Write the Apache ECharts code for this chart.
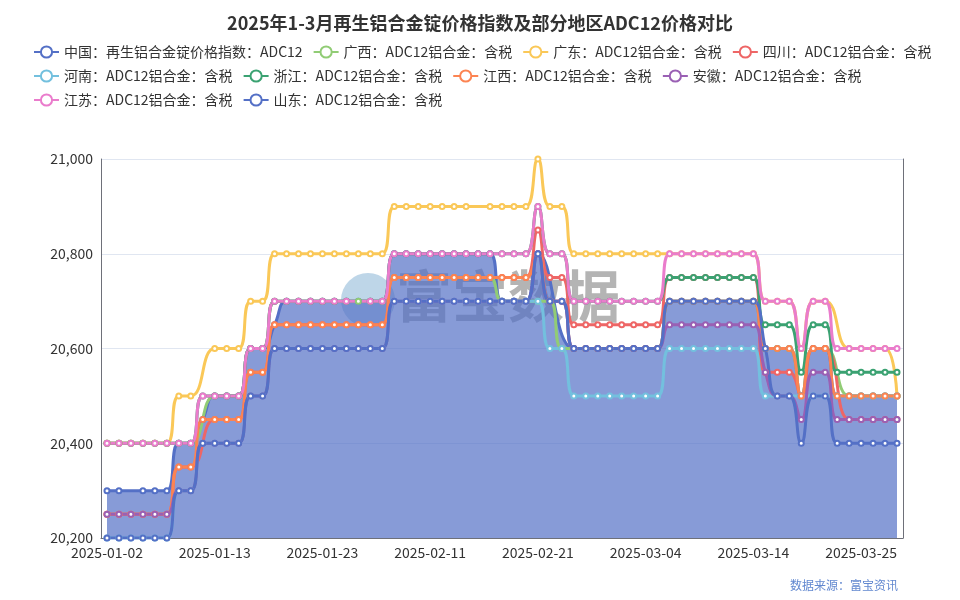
<!DOCTYPE html>
<html>
<head>
<meta charset="utf-8">
<script src="https://cdn.jsdelivr.net/npm/echarts@6/dist/echarts.min.js"></script>
<style>
html,body{margin:0;padding:0;background:#fff;}
#main{width:960px;height:600px;}
</style>
</head>
<body>
<div id="main"></div>
<script>
var dates = ['2025-01-02','2025-01-03','2025-01-04','2025-01-06','2025-01-07','2025-01-08','2025-01-09','2025-01-10','2025-01-11','2025-01-13',
'2025-01-14','2025-01-15','2025-01-16','2025-01-17','2025-01-18','2025-01-20','2025-01-21','2025-01-22','2025-01-23','2025-01-24',
'2025-01-25','2025-01-26','2025-02-05','2025-02-06','2025-02-07','2025-02-08','2025-02-10','2025-02-11','2025-02-12','2025-02-13',
'2025-02-14','2025-02-15','2025-02-17','2025-02-18','2025-02-19','2025-02-20','2025-02-21','2025-02-22','2025-02-24','2025-02-25',
'2025-02-26','2025-02-27','2025-02-28','2025-03-01','2025-03-03','2025-03-04','2025-03-05','2025-03-06','2025-03-07','2025-03-08',
'2025-03-10','2025-03-11','2025-03-12','2025-03-13','2025-03-14','2025-03-15','2025-03-17','2025-03-18','2025-03-19','2025-03-20',
'2025-03-21','2025-03-22','2025-03-24','2025-03-25','2025-03-26','2025-03-27','2025-03-28'];

var seriesNames = ['中国：再生铝合金锭价格指数：ADC12','广西：ADC12铝合金：含税','广东：ADC12铝合金：含税','四川：ADC12铝合金：含税',
'河南：ADC12铝合金：含税','浙江：ADC12铝合金：含税','江西：ADC12铝合金：含税','安徽：ADC12铝合金：含税','江苏：ADC12铝合金：含税','山东：ADC12铝合金：含税'];

var chinaIndex = [20300,20300,null,20300,20300,20300,20400,20400,20450,20500,
20500,20500,20600,20600,20650,20700,20700,20700,20700,20700,
20700,20700,20700,20700,20800,20800,20800,20800,20800,20800,
20800,20800,20800,20700,20700,20700,20800,null,null,20600,
20600,20600,20600,20600,20600,20600,20600,20700,20700,20700,
20700,20700,20700,20700,20700,20600,20600,20600,20500,20600,
20600,20500,20500,20500,20500,20500,20500];

var guangxi = [20400,20400,20400,20400,20400,20400,20400,20400,null,20500,
20500,20500,20600,20600,20700,20700,20700,20700,20700,20700,
20700,20700,20700,20700,20750,20750,20750,20750,20750,20750,
20750,20750,20750,20700,20700,20700,20700,20700,20600,20600,
20600,20600,20600,20600,20600,20600,20600,20700,20700,20700,
20700,20700,20700,20700,20700,20600,20600,20600,20500,20600,
20600,null,20500,20500,20500,20500,20500];

var guangdong = [20400,20400,20400,20400,20400,20400,20500,20500,null,20600,
20600,20600,20700,20700,20800,20800,20800,20800,20800,20800,
20800,20800,20800,20800,20900,20900,20900,20900,20900,20900,
20900,null,20900,20900,20900,20900,21000,20900,20900,20800,
20800,20800,20800,20800,20800,20800,20800,20800,20800,20800,
20800,20800,20800,20800,20800,20700,20700,20700,20600,20700,
20700,null,20600,20600,20600,20600,20500];

var sichuan = [20250,20250,20250,20250,20250,20250,20350,20350,null,20450,
20450,20450,20550,20550,20650,20650,20650,20650,20650,20650,
20650,20650,20650,20650,20750,20750,20750,20750,20750,20750,
20750,20750,20750,20750,20750,20750,20850,20750,20750,20650,
20650,20650,20650,20650,20650,20650,20650,20750,20750,20750,
20750,20750,20750,20750,20750,20550,20550,20550,20500,20600,
20600,null,20450,20450,20450,20450,20450];

var henan = [20200,20200,20200,20200,20200,20200,20300,20300,20400,20400,
20400,20400,20500,20500,20600,20600,20600,20600,20600,20600,
20600,20600,20600,20600,20700,20700,20700,20700,20700,20700,
20700,20700,20700,20700,20700,20700,20700,20600,20600,20500,
20500,20500,20500,20500,20500,20500,20500,20600,20600,20600,
20600,20600,20600,20600,20600,20500,20500,20500,20500,20500,
20500,20500,20500,20500,20500,20500,20500];

var zhejiang = [20400,20400,20400,20400,20400,20400,20400,20400,20500,20500,
20500,20500,20600,20600,20700,20700,20700,20700,20700,20700,
20700,null,20700,20700,20800,20800,20800,20800,20800,20800,
20800,20800,20800,20800,20800,20800,20900,20800,20800,20700,
20700,20700,20700,20700,20700,20700,20700,20750,20750,20750,
20750,20750,20750,20750,20750,20650,20650,20650,20550,20650,
20650,20550,20550,20550,20550,20550,20550];

var jiangxi = [20250,20250,20250,20250,20250,20250,20350,20350,20450,20450,
20450,20450,20550,20550,20650,20650,20650,20650,20650,20650,
20650,20650,20650,20650,20750,20750,20750,20750,20750,20750,
20750,20750,20750,20750,20750,20750,20800,20700,20700,20600,
20600,20600,20600,20600,20600,20600,20600,20700,20700,20700,
20700,20700,20700,20700,20700,20600,20600,20600,20500,20600,
20600,20500,20500,20500,20500,20500,20500];

var anhui = [20250,20250,20250,20250,20250,20250,20300,20300,20400,20400,
20400,20400,20500,20500,20600,20600,20600,20600,20600,20600,
20600,20600,20600,20600,20700,20700,20700,20700,20700,20700,
20700,20700,20700,20700,20700,20700,20800,20700,20700,20600,
20600,20600,20600,20600,20600,20600,20600,20650,20650,20650,
20650,20650,20650,20650,20650,20550,20500,20500,20450,20550,
20550,20450,20450,20450,20450,20450,20450];

var jiangsu = [20400,20400,20400,20400,20400,20400,20400,20400,20500,20500,
20500,20500,20600,20600,20700,20700,20700,20700,20700,20700,
20700,null,20700,20700,20800,20800,20800,20800,20800,20800,
20800,20800,20800,20800,20800,20800,20900,20800,20800,20700,
20700,20700,20700,20700,20700,20700,20700,20800,20800,20800,
20800,20800,20800,20800,20800,20700,20700,20700,20600,20700,
20700,20600,20600,20600,20600,20600,20600];

var shandong = [20200,20200,20200,20200,20200,20200,20300,20300,20400,20400,
20400,20400,20500,20500,20600,20600,20600,20600,20600,20600,
20600,20600,20600,20600,20700,20700,20700,20700,20700,20700,
20700,20700,20700,20700,20700,20700,20800,20700,20700,20600,
20600,20600,20600,20600,20600,20600,20600,20700,20700,20700,
20700,20700,20700,20700,20700,20600,20500,20500,20400,20500,
20500,20400,20400,20400,20400,20400,20400];

var seriesData = [chinaIndex, guangxi, guangdong, sichuan, henan, zhejiang, jiangxi, anhui, jiangsu, shandong];
var colors = ['#5470c6','#91cc75','#fac858','#ee6666','#73c0de','#3ba272','#fc8452','#9a60b4','#ea7ccc','#5470c6'];

var FONT = '"Noto Sans CJK SC", "Noto Sans", sans-serif';
var chart = echarts.init(document.getElementById('main'));

var series = seriesData.map(function (d, i) {
  var s = {
    name: seriesNames[i],
    type: 'line',
    data: d,
    smooth: true,
    connectNulls: true,
    symbol: 'emptyCircle',
    symbolSize: 5,
    showAllSymbol: true,
    lineStyle: { width: 3 },
    itemStyle: { color: colors[i], borderWidth: 2 }
  };
  if (i === 0) s.areaStyle = { opacity: 0.7 };
  return s;
});

chart.setOption({
  animation: false,
  color: colors,
  textStyle: { fontFamily: FONT },
  title: {
    text: '2025年1-3月再生铝合金锭价格指数及部分地区ADC12价格对比',
    left: 'center',
    top: 9,
    textStyle: { fontSize: 18, fontWeight: 'bold', color: '#333', fontFamily: FONT }
  },
  legend: {
    left: 28,
    right: 18,
    top: 40,
    itemGap: 10,
    itemWidth: 25,
    itemHeight: 14,
    textStyle: { fontSize: 14, color: '#333', fontFamily: FONT }
  },
  grid: { left: 101, right: 57, top: 159, bottom: 62 },
  xAxis: {
    type: 'category',
    data: dates,
    boundaryGap: true,
    axisLine: { lineStyle: { color: '#6E7079' } },
    axisLabel: { interval: 8, fontSize: 14, color: '#333', fontFamily: FONT },
    axisTick: { interval: 8 }
  },
  yAxis: [{
    type: 'value',
    min: 20200,
    max: 21000,
    interval: 200,
    axisLine: { show: true, lineStyle: { color: '#6E7079' } },
    axisLabel: { fontSize: 14, color: '#333', fontFamily: FONT },
    splitLine: { lineStyle: { color: '#E0E6F1' } }
  }, {
    type: 'value',
    min: 20200,
    max: 21000,
    interval: 200,
    position: 'right',
    axisLine: { show: true, lineStyle: { color: '#6E7079' } },
    axisLabel: { show: false },
    axisTick: { show: false },
    splitLine: { show: false }
  }],
  graphic: [
    { type: 'circle', z: 0, shape: { cx: 368, cy: 300, r: 27 }, style: { fill: 'rgba(110,165,205,0.45)' } },
    { type: 'text', z: 0, left: 396, top: 268, style: { text: '富宝数据', font: 'bold 56px "Noto Sans CJK SC", sans-serif', fill: 'rgba(130,130,130,0.6)' } },
    { type: 'text', right: 62, top: 579, style: { text: '数据来源：富宝资讯', font: '12px "Noto Sans CJK SC", sans-serif', fill: '#6288d0' } }
  ],
  series: series
});
</script>
</body>
</html>
